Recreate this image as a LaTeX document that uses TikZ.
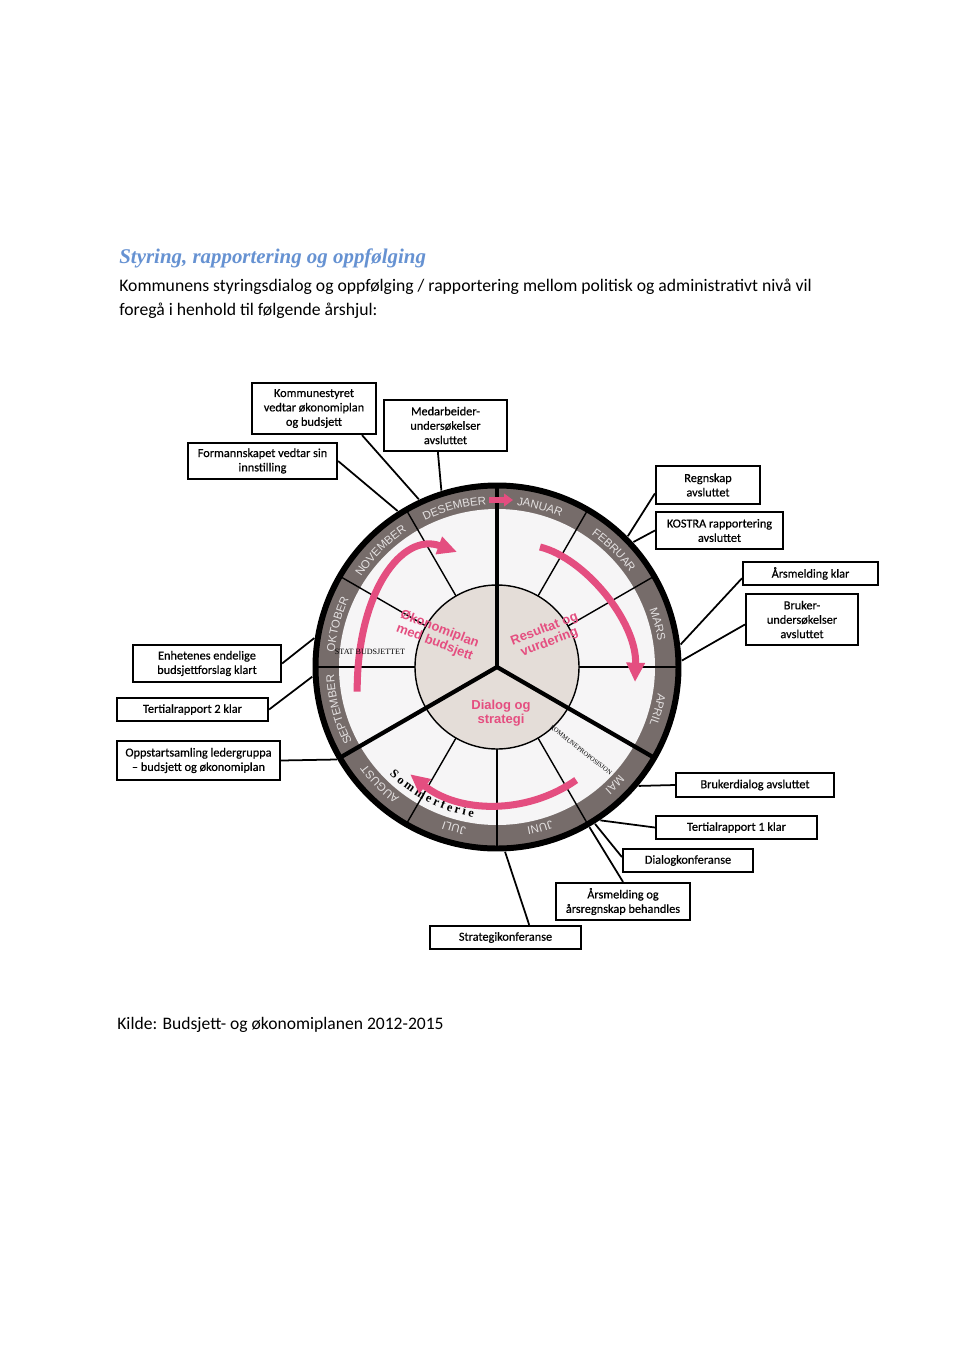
\documentclass[tikz,border=0pt]{standalone}
\usepackage{fontspec}
\setmainfont{Carlito}
\newfontfamily\boksfont[FakeBold=0.5]{Carlito}
\newfontfamily\titlefont{Liberation Serif}
\newfontfamily\arialfont{Liberation Sans}
\usetikzlibrary{arrows.meta,decorations.text}
\definecolor{tittelblaa}{RGB}{102,146,210}
\definecolor{rosa}{RGB}{228,78,128}
\definecolor{bandgraa}{RGB}{118,108,106}
\definecolor{ringhvit}{RGB}{246,245,246}
\definecolor{midtgraa}{RGB}{228,221,216}
\definecolor{mndtekst}{RGB}{228,225,225}
\newcommand\mndfont{\arialfont\fontsize{6.5}{6.5}\selectfont}
\newcommand\sommerfont{\titlefont\bfseries\fontsize{7}{7}\selectfont}
\tikzset{
  boks/.style = {draw=black, line width=1.25pt, fill=white, align=center,
    inner sep=1pt, font=\boksfont\fontsize{7}{8.2}\selectfont},% tekstboks
  linje/.style = {draw=black, line width=1pt},% strek boks - hjul
  tynn/.style = {draw=black, line width=0.8pt},% maanedsgrense
  tykk/.style = {draw=black, line width=2.4pt},% tredeling
  pil/.style = {draw=rosa, line width=4pt,
    -{Triangle[length=11pt,width=10pt]}},% rosa pil
  hjultekst/.style = {text=rosa, align=center, inner sep=0pt,
    font=\arialfont\bfseries\fontsize{7.4}{8}\selectfont},
  liten/.style = {inner sep=0pt, font=\titlefont\fontsize{4.6}{5}\selectfont}
}
\begin{document}
\begin{tikzpicture}[x=0.02cm, y=0.02cm]
\useasboundingbox (0,0) rectangle (960,-1352);
\fill[white] (0,0) rectangle (960,-1352);

% overskrift og tekst
\node[anchor=base west, inner sep=0pt, text=tittelblaa,
  font=\titlefont\bfseries\itshape\fontsize{11.9}{13}\selectfont] (tittel) at (119,-263)
  {Styring, rapportering og oppfølging};
\node[anchor=north west, inner sep=0pt, align=left,
  font=\fontsize{10.05}{13.6}\selectfont] (tekst) at (119,-279)
  {Kommunens styringsdialog og oppfølging / rapportering mellom politisk og administrativt nivå vil\\
   foregå i henhold til følgende årshjul:};
\node[anchor=base west, inner sep=0pt, font=\fontsize{10}{12}\selectfont] (kilde) at (117,-1029)
  {Kilde: Budsjett- og økonomiplanen 2012-2015};

% boksene
\node[boks, minimum width=2.48cm, minimum height=1.02cm] (kst) at (314,-408.5) {Kommunestyret\\vedtar økonomiplan\\og budsjett};
\node[boks, minimum width=2.46cm, minimum height=1.02cm] (med) at (445.5,-425.5) {Medarbeider-\\undersøkelser\\avsluttet};
\node[boks, minimum width=2.98cm, minimum height=0.72cm] (fsk) at (262.5,-461) {Formannskapet vedtar sin\\innstilling};
\node[boks, minimum width=2.08cm, minimum height=0.76cm] (reg) at (708,-485) {Regnskap\\avsluttet};
\node[boks, minimum width=2.54cm, minimum height=0.74cm] (kos) at (719.5,-530.5) {KOSTRA rapportering\\avsluttet};
\node[boks, minimum width=2.70cm, minimum height=0.46cm] (ark) at (810.5,-573.5) {Årsmelding klar};
\node[boks, minimum width=2.24cm, minimum height=1.02cm] (bru) at (802,-619.5) {Bruker-\\undersøkelser\\avsluttet};
\node[boks, minimum width=2.96cm, minimum height=0.74cm] (enh) at (207,-663.5) {Enhetenes endelige\\budsjettforslag klart};
\node[boks, minimum width=3.02cm, minimum height=0.46cm] (tr2) at (192.5,-709.5) {Tertialrapport 2 klar};
\node[boks, minimum width=3.26cm, minimum height=0.78cm] (opp) at (198.5,-760.5) {Oppstartsamling ledergruppa\\– budsjett og økonomiplan};
\node[boks, minimum width=3.16cm, minimum height=0.48cm] (brd) at (755,-785) {Brukerdialog avsluttet};
\node[boks, minimum width=3.22cm, minimum height=0.46cm] (tr1) at (736.5,-827.5) {Tertialrapport 1 klar};
\node[boks, minimum width=2.60cm, minimum height=0.46cm] (dkf) at (688,-860.5) {Dialogkonferanse};
\node[boks, minimum width=2.68cm, minimum height=0.74cm] (arr) at (623,-901.5) {Årsmelding og\\årsregnskap behandles};
\node[boks, minimum width=3.02cm, minimum height=0.46cm] (stk) at (505.5,-937.5) {Strategikonferanse};

% hjulet
\begin{scope}[shift={(497,-667)}]
\fill[bandgraa] (0,0) circle (181);
\fill[ringhvit] (0,0) circle (158);
\draw[line width=3.4pt] (0,0) circle (181.5);
\foreach \a in {0,30,60,120,150,180,240,270,300}
  \draw[tynn] (\a:82) -- (\a:180);
\draw[tynn, fill=midtgraa] (0,0) circle (82);
\foreach \a in {90,210,330}
  \draw[tykk] (0,0) -- (\a:180);

\foreach \m [count=\i] in {JANUAR,FEBRUAR,MARS,APRIL,MAI,JUNI,JULI,AUGUST,SEPTEMBER,OKTOBER,NOVEMBER,DESEMBER}{
  \pgfmathsetmacro\s{120-30*\i}
  \pgfmathsetmacro\e{\s-30}
  \path[decorate, decoration={text along path, text color=mndtekst, text align=center,
    text/.expanded={|\noexpand\mndfont|\m}}] (\s:163) arc (\s:\e:163);
}
\path[decorate, decoration={text along path, text align=fit to path,
  text={|\sommerfont|Sommerferie}}] (-135:152) arc (-135:-99:152);

% pilene
\draw[pil] (190:142) .. controls (-140,75) and (-95,135) .. (-40,115);
\draw[pil] (43,120) .. controls (88,109) and (140,45) .. (138,-15);
\draw[pil] (-55:138) arc (-55:-129:138);
\draw[pil, line width=3pt, -{Triangle[length=5pt,width=7pt]}] (-8,167) -- (16,167);

% tekst i hjulet
\node[hjultekst, rotate=-21] (okon) at (-60,31) {Økonomiplan\\med budsjett};
\node[hjultekst, rotate=21] (resu) at (50,31) {Resultat og\\vurdering};
\node[hjultekst] (dial) at (4,-46) {Dialog og\\strategi};
\node[liten] (stat) at (-127,15) {STAT BUDSJETTET};
\node[liten, rotate=-38, font=\titlefont\fontsize{3.7}{4}\selectfont] (kprop) at (84,-83) {KOMMUNEPROPOSISJON};

% strekene ut til boksene
\foreach \b/\n/\a in {kst/-29/115, med/-106/107.5, fsk/east/122.5, reg/-171/45,
    kos/west/42.5, ark/-176/7, bru/-175/2, enh/east/171, tr2/east/183, opp/east/210,
    brd/west/-40, tr1/west/-56, dkf/177/-58, arr/north/-60, stk/28/-87.5}{
  \coordinate (r\b) at (\a:185);
  \draw[linje] (\b.\n) -- (r\b);
}
\end{scope}
\end{tikzpicture}
\end{document}
